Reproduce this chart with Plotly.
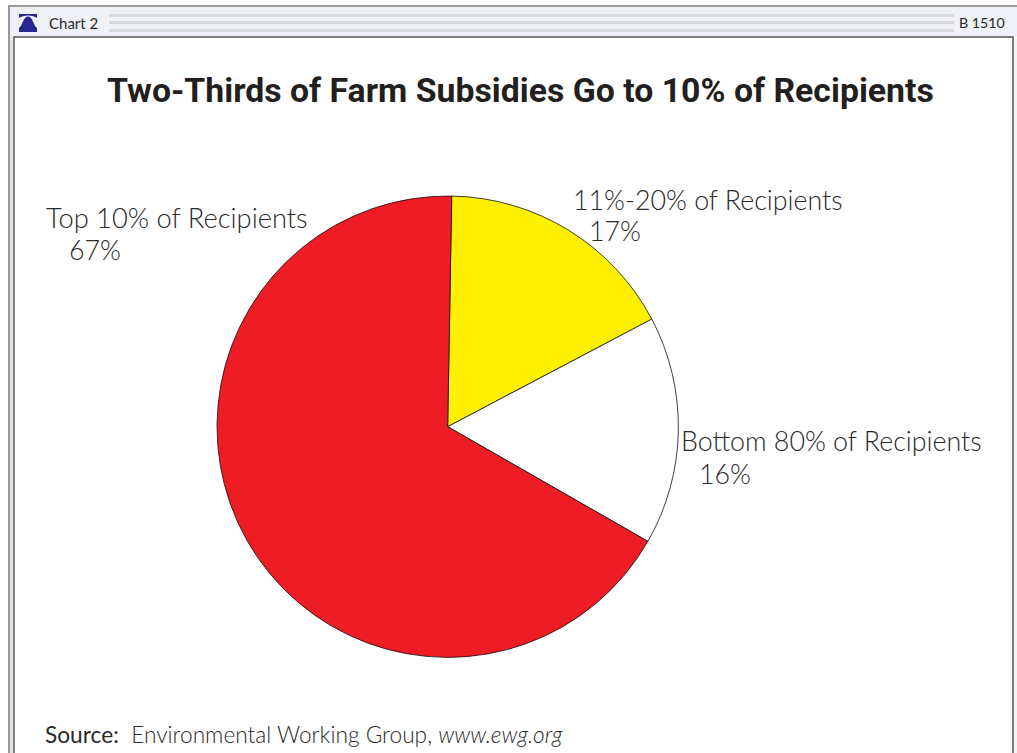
import plotly.graph_objects as go

W, H = 1017, 753

slice_names = ["11%-20% of Recipients", "Bottom 80% of Recipients", "Top 10% of Recipients"]
slice_values = [17, 16, 67]
slice_colors = ["#FFF000", "#FFFFFF", "#EE1C25"]
title_text = "Two-Thirds of Farm Subsidies Go to 10% of Recipients"
chart_tag = "Chart 2"
report_tag = "B 1510"


def px(x):
    return x / W


def py(y):
    return 1 - y / H


def rect(x0, y0, x1, y1, fill=None, line=None, width=1):
    return dict(
        type="rect", xref="paper", yref="paper",
        x0=px(x0), x1=px(x1), y0=py(y0), y1=py(y1),
        fillcolor=fill if fill else "rgba(0,0,0,0)",
        line=dict(color=line if line else "rgba(0,0,0,0)", width=width if line else 0),
        layer="below",
    )


def text(x, y, s, size, color="#2A2A2A", family="Lato Light, Lato", anchor="left", weight=None):
    return dict(
        x=px(x), y=py(y), xref="paper", yref="paper", text=s, showarrow=False,
        xanchor=anchor, yanchor="middle",
        font=dict(size=size, color=color, family=family, weight=weight),
    )


# Page frame and header band
shapes = [
    rect(9, 6, 1040, 800, fill="#FFFFFF", line="#777777", width=1.5),
    rect(10, 7, 1017, 37, fill="#F0F1F6"),
    rect(10, 37, 14, 800, fill="#E4E4E4"),
    rect(14, 37, 1013, 800, fill="#FFFFFF", line="#555555", width=1.5),
    rect(1014, 38, 1017, 753, fill="#F4F4F4"),
]
# Ruled lines running across the header
for y0 in (14, 21, 29):
    shapes.append(rect(109, y0, 954, y0 + 3, fill="#D9DADC"))

# Bell emblem in the header
bell = (
    f"M {px(19)} {py(14)} L {px(37)} {py(14)} L {px(37)} {py(18)} "
    f"C {px(33)} {py(14.5)} {px(23)} {py(14.5)} {px(19)} {py(18)} Z "
    f"M {px(28)} {py(16.5)} C {px(33)} {py(16.5)} {px(33)} {py(25)} {px(37)} {py(28)} "
    f"L {px(37)} {py(32)} L {px(19)} {py(32)} L {px(19)} {py(28)} "
    f"C {px(23)} {py(25)} {px(23)} {py(16.5)} {px(28)} {py(16.5)} Z"
)
shapes.append(dict(type="path", xref="paper", yref="paper", path=bell,
                   fillcolor="#26288F", line=dict(width=0), layer="above"))

annotations = [
    text(47, 23.5, chart_tag, 15, family="Lato"),
    text(957, 23, report_tag, 14.2, family="Lato"),
    text(520.5, 90, title_text, 33.8, color="#231F20", family="Roboto",
         anchor="center", weight=700),
    text(571, 199.5, slice_names[0], 26.8),
    text(587, 231.5, f"{slice_values[0]}%", 26.8),
    text(679, 440.5, slice_names[1], 26.8),
    text(697, 473.5, f"{slice_values[1]}%", 26.8),
    text(44, 218, slice_names[2], 27.3),
    text(67, 250, f"{slice_values[2]}%", 26.8),
    dict(
        x=px(43), y=py(734), xref="paper", yref="paper", showarrow=False,
        xanchor="left", yanchor="middle",
        text="<span style='font-family:Lato;font-weight:400;color:#2A2A2A'>Source:</span>"
             "  Environmental Working Group, <i>www.ewg.org</i>",
        font=dict(size=22.7, color="#2A2A2A", family="Lato Light, Lato"),
    ),
]

fig = go.Figure(
    go.Pie(
        labels=slice_names,
        values=slice_values,
        sort=False,
        direction="clockwise",
        rotation=1,
        textinfo="none",
        hoverinfo="label+percent",
        marker=dict(colors=slice_colors, line=dict(color="#111111", width=0.8)),
        domain=dict(x=[px(217), px(678.4)], y=[py(657.4), py(196)]),
        showlegend=False,
    )
)

fig.update_layout(
    width=W, height=H,
    margin=dict(l=0, r=0, t=0, b=0),
    paper_bgcolor="#FFFFFF",
    shapes=shapes,
    annotations=annotations,
)

fig.write_html("out.html", config=dict(displayModeBar=False))
